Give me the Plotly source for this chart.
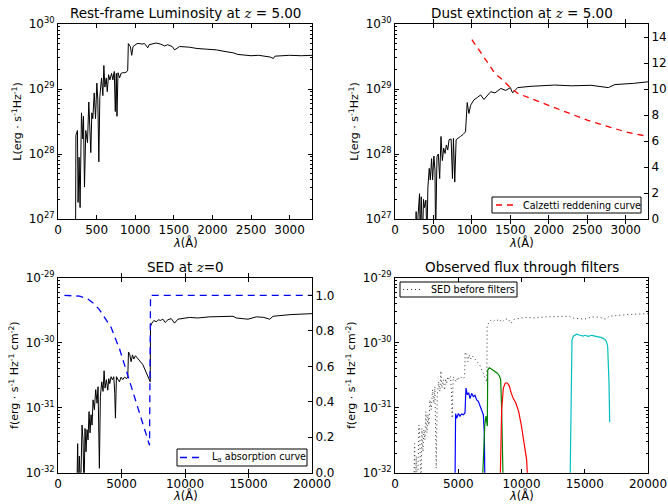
import plotly.graph_objects as go

# ---------------- data ----------------
# Panel 1: rest-frame luminosity at z=5
rest_wl = [228, 232, 252, 260, 273, 286, 304, 321, 330, 343, 360, 382, 399, 412, 425, 438, 451, 469, 486,
           503, 516, 529, 542, 564, 581, 594, 607, 625, 638, 655, 672, 694, 711, 729, 742, 755, 764, 777,
           798, 816, 838, 868, 894, 903, 911, 937, 955, 972, 998, 1024, 1059, 1090, 1120, 1163, 1180, 1230,
           1272, 1330, 1380, 1420, 1480, 1510, 1575, 1700, 1800, 1922, 2050, 2150, 2270, 2330, 2443, 2500,
           2600, 2700, 2748, 2790, 2810, 3000, 3150, 3290]
rest_lum = [8e26, 1.95e28, 2.3e28, 1.8e27, 8.9e27, 1.5e27, 4.3e28, 1.7e28, 3.8e28, 3.1e27, 2.3e28, 1.5e28,
            6.3e28, 2.3e28, 1.05e28, 4.3e28, 3.5e28, 8.7e28, 3.5e28, 1.23e29, 6.8e28, 7.6e27, 7.6e28,
            1.48e29, 7.9e28, 2.3e29, 1.07e29, 1.48e29, 9.1e28, 1.66e29, 1.38e29, 1.74e29, 1.38e29, 1.86e29,
            4.5e28, 1.74e29, 3.8e28, 1.78e29, 1.48e29, 1.74e29, 1.78e29, 1.78e29, 1.86e29, 1.95e29, 5.0e29,
            4.5e29, 3.3e29, 4.5e29, 4.8e29, 5.0e29, 5.0e29, 4.9e29, 5.0e29, 4.3e29, 4.8e29, 5.0e29, 5.1e29,
            4.9e29, 4.6e29, 4.8e29, 4.5e29, 4.0e29, 4.5e29, 4.4e29, 4.2e29, 4.1e29, 4.0e29, 3.8e29, 3.6e29,
            3.4e29, 3.3e29, 3.25e29, 3.3e29, 3.2e29, 3.1e29, 2.95e29, 3.2e29, 3.3e29, 3.25e29, 3.3e29]

# Panel 2: dust-extincted luminosity
dust_wl = [268, 275, 280, 319, 328, 341, 358, 371, 384, 402, 415, 428, 445, 459, 476, 489, 506, 520, 528,
           546, 563, 581, 598, 616, 633, 651, 668, 686, 703, 730, 747, 760, 777, 795, 821, 851, 886, 917,
           939, 961, 983, 1026, 1070, 1114, 1157, 1201, 1245, 1300, 1376, 1441, 1500, 1529, 1594, 1769,
           1900, 2074, 2300, 2424, 2550, 2773, 2860, 3100, 3290]
dust_lum = [5e26, 1.3e27, 5e26, 2.45e27, 5e26, 2.2e27, 5e26, 2.0e27, 1.5e27, 1.95e27, 5e26, 3.1e27, 6.0e27,
            4.0e27, 8.5e27, 4.0e27, 9.3e27, 5.6e27, 5e26, 9.1e27, 1.0e28, 4.2e27, 1.86e28, 7.9e27, 1.23e28,
            1.02e28, 1.38e28, 1.15e28, 1.66e28, 1.7e28, 4.2e27, 1.74e28, 3.7e27, 1.66e28, 1.78e28, 1.86e28,
            2.0e28, 2.2e28, 6.2e28, 4.2e28, 5.6e28, 6.8e28, 7.4e28, 8.1e28, 6.9e28, 8.1e28, 9.1e28, 8.7e28,
            1.02e29, 9.5e28, 1.05e29, 8.7e28, 1.05e29, 1.10e29, 1.12e29, 1.15e29, 1.12e29, 1.12e29, 1.14e29,
            1.05e29, 1.17e29, 1.22e29, 1.29e29]

calz_wl = [1000, 1100, 1200, 1300, 1400, 1500, 1600, 1800, 2000, 2250, 2500, 2750, 3000, 3290]
calz_k = [13.8, 12.95, 12.15, 11.2, 10.7, 10.1, 9.65, 9.2, 8.75, 8.15, 7.6, 7.15, 6.7, 6.35]

# Panel 3: observed-frame SED at z=0
sed_wl = [1480, 1497, 1549, 1602, 1680, 1780, 1891, 1970, 2050, 2128, 2207, 2286, 2365, 2444, 2523, 2602,
          2681, 2760, 2865, 2970, 3075, 3154, 3259, 3338, 3443, 3549, 3628, 3706, 3812, 3917, 3996, 4075,
          4180, 4285, 4391, 4470, 4522, 4601, 4706, 4838, 4969, 5101, 5233, 5417, 5496, 5549, 5654, 5759,
          5864, 5969, 6101, 6285, 6496, 6680, 6864, 7022, 7154, 7259, 7285, 7390, 7548, 7732, 7916, 8074,
          8258, 8442, 8652, 8915, 9176, 9439, 10360, 11000, 11938, 13000, 13779, 14042, 14962, 15620,
          16200, 16672, 16935, 18250, 19000, 20000]
sed_flux = [5e-33, 2.2e-32, 2.8e-32, 5e-33, 1.8e-32, 5e-33, 5.4e-32, 3.2e-32, 5e-33, 4.8e-32, 2.1e-32,
            4.6e-32, 3.2e-32, 8.7e-32, 4.1e-32, 7.8e-32, 5.4e-32, 1.32e-31, 9.3e-32, 1.9e-31, 1.17e-31,
            2.1e-31, 1.17e-32, 1.48e-31, 2.5e-31, 1.78e-31, 3.7e-31, 2.0e-31, 2.7e-31, 1.86e-31, 2.8e-31,
            2.35e-31, 3.0e-31, 2.7e-31, 3.0e-31, 1.66e-31, 6.9e-32, 3.0e-31, 2.8e-31, 2.5e-31, 2.95e-31,
            2.7e-31, 2.95e-31, 2.8e-31, 3.0e-31, 7.2e-31, 6.5e-31, 5.1e-31, 6.5e-31, 5.6e-31, 6.3e-31,
            5.75e-31, 5.1e-31, 4.6e-31, 3.8e-31, 3.2e-31, 2.8e-31, 2.5e-31, 1.78e-30, 2.0e-30, 2.2e-30,
            2.1e-30, 2.25e-30, 2.2e-30, 2.3e-30, 2.05e-30, 2.25e-30, 2.35e-30, 2.0e-30, 2.3e-30, 2.45e-30,
            2.4e-30, 2.5e-30, 2.5e-30, 2.55e-30, 2.4e-30, 2.3e-30, 2.5e-30, 2.45e-30, 2.3e-30, 2.55e-30,
            2.7e-30, 2.75e-30, 2.8e-30]

lya_wl = [500, 1000, 1700, 2340, 2800, 3260, 3700, 4180, 4500, 4838, 5100, 5364, 5600, 5890, 6150, 6416,
          6650, 6863, 7050, 7206, 7285, 20000]
lya_t = [1.0, 1.0, 0.996, 0.98, 0.955, 0.92, 0.875, 0.82, 0.76, 0.70, 0.64, 0.58, 0.515, 0.45, 0.39, 0.33,
         0.28, 0.23, 0.19, 0.155, 1.0, 1.0]

# Panel 4: flux through filters
blue_wl = [4740, 4790, 4875, 5006, 5138, 5270, 5401, 5533, 5612, 5718, 5823, 5928, 6060, 6192, 6324, 6455,
           6587, 6719, 6851, 6982, 7061, 7114]
blue_f = [5e-33, 8.1e-32, 6.9e-32, 8.1e-32, 7.4e-32, 8.0e-32, 7.8e-32, 8.3e-32, 2.0e-31, 1.58e-31, 1.7e-31,
          1.38e-31, 1.66e-31, 1.48e-31, 1.55e-31, 1.32e-31, 1.25e-31, 1.07e-31, 9.3e-32, 7.8e-32, 4.1e-32, 5e-33]
green_wl = [6880, 7000, 7100, 7190, 7245, 7300, 7330, 7457, 7562, 7720, 7905, 8089, 8247, 8352, 8431, 8510, 8563]
green_f = [5e-33, 2.5e-32, 5.5e-32, 7.4e-32, 5.4e-32, 5.2e-32, 3.8e-31, 4.1e-31, 4.0e-31, 3.8e-31, 3.6e-31,
           3.4e-31, 3.1e-31, 2.7e-31, 9.3e-32, 2.5e-32, 5e-33]
red_wl = [8300, 8431, 8563, 8721, 8879, 9037, 9195, 9353, 9564, 9775, 9985, 10196, 10407, 10530]
red_f = [5e-33, 9.3e-32, 2.0e-31, 2.4e-31, 2.4e-31, 2.15e-31, 1.66e-31, 1.38e-31, 1.17e-31, 8.7e-32, 5.4e-32,
         3.0e-32, 1.58e-32, 5e-33]
cyan_wl = [13830, 13913, 13992, 14098, 14361, 14625, 14888, 15020, 15283, 15547, 15942, 16337, 16601, 16733,
           16812, 16917, 16970]
cyan_f = [5e-33, 2.4e-31, 1.1e-30, 1.26e-30, 1.35e-30, 1.3e-30, 1.26e-30, 1.3e-30, 1.25e-30, 1.3e-30,
          1.26e-30, 1.2e-30, 1.12e-30, 1.02e-30, 8.7e-31, 2.4e-31, 6.0e-32]

top_ticks = [27, 28, 29, 30]
bot_ticks = [-32, -31, -30, -29]
legend_labels = ["Calzetti reddening curve", "L<sub>α</sub> absorption curve", "SED before filters"]

# ---------------- figure ----------------
FONT = "DejaVu Sans"
fig = go.Figure()

fig.add_trace(go.Scatter(x=rest_wl, y=rest_lum, mode="lines", line=dict(color="black", width=1),
                         xaxis="x", yaxis="y", showlegend=False))
fig.add_trace(go.Scatter(x=dust_wl, y=dust_lum, mode="lines", line=dict(color="black", width=1),
                         xaxis="x2", yaxis="y2", showlegend=False))
fig.add_trace(go.Scatter(x=calz_wl, y=calz_k, mode="lines", name=legend_labels[0],
                         line=dict(color="red", width=1.3, dash="6px,5px"),
                         xaxis="x2", yaxis="y5", showlegend=False))
fig.add_trace(go.Scatter(x=sed_wl, y=sed_flux, mode="lines", line=dict(color="black", width=1),
                         xaxis="x3", yaxis="y3", showlegend=False))
fig.add_trace(go.Scatter(x=lya_wl, y=lya_t, mode="lines", name=legend_labels[1],
                         line=dict(color="blue", width=1.3, dash="7px,5px"),
                         xaxis="x3", yaxis="y6", showlegend=False))
fig.add_trace(go.Scatter(x=sed_wl, y=sed_flux, mode="lines", name=legend_labels[2],
                         line=dict(color="#333333", width=1, dash="1px,3px"),
                         xaxis="x4", yaxis="y4", showlegend=False))
for wl, fl, col in [(blue_wl, blue_f, "#0000ff"), (green_wl, green_f, "#008000"),
                    (red_wl, red_f, "#ff0000"), (cyan_wl, cyan_f, "#00bfbf")]:
    fig.add_trace(go.Scatter(x=wl, y=fl, mode="lines", line=dict(color=col, width=1.2),
                             xaxis="x4", yaxis="y4", showlegend=False))

W, H = 668, 504
XL, XR = 58 / W, 312 / W
X2L, X2R = 395 / W, 648 / W
YT0, YT1 = 1 - 219 / H, 1 - 24 / H
YB0, YB1 = 1 - 472.7 / H, 1 - 277.7 / H

tickfont = dict(family=FONT, size=12, color="black")
titlefont = dict(family=FONT, size=11, color="black")


def xax(dom, anchor, rng, dtick):
    return dict(domain=dom, anchor=anchor, range=rng, dtick=dtick, tick0=0, tickformat="d",
                showgrid=False, zeroline=False, automargin=False, ticklabeloverflow="allow",
                showline=True, linecolor="black", linewidth=1, mirror="allticks", ticks="inside",
                ticklen=4, tickcolor="black", tickfont=tickfont)


def ylog(dom, anchor, exps, title, mirror):
    minors = [m * 10.0 ** e for e in exps[:-1] for m in range(2, 10)]
    return dict(domain=dom, anchor=anchor, type="log", range=[exps[0], exps[-1]], automargin=False,
                tickvals=[10.0 ** e for e in exps], ticktext=["10<sup>%d</sup>" % e for e in exps],
                showgrid=False, zeroline=False, showline=True, linecolor="black", linewidth=1,
                mirror=mirror, ticks="inside", ticklen=4, tickcolor="black", tickfont=tickfont,
                ticklabeloverflow="allow",
                minor=dict(tickmode="array", tickvals=minors, ticks="inside", ticklen=2,
                           tickcolor="black", showgrid=False),
                title=dict(text=title, font=titlefont, standoff=4))


L_TITLE = "L(erg · s<sup>-1</sup>Hz<sup>-1</sup>)"
F_TITLE = "f(erg · s<sup>-1</sup> Hz<sup>-1</sup> cm<sup>-2</sup>)"

fig.update_layout(
    width=W, height=H, margin=dict(l=0, r=0, t=0, b=0),
    paper_bgcolor="white", plot_bgcolor="white",
    font=dict(family=FONT, size=11, color="black"),
    showlegend=False,
    xaxis=xax([XL, XR], "y", [0, 3290], 500),
    yaxis=ylog([YT0, YT1], "x", top_ticks, L_TITLE, "allticks"),
    xaxis2=xax([X2L, X2R], "y2", [0, 3290], 500),
    yaxis2=ylog([YT0, YT1], "x2", top_ticks, L_TITLE, True),
    xaxis3=xax([XL, XR], "y3", [0, 20000], 5000),
    yaxis3=ylog([YB0, YB1], "x3", bot_ticks, F_TITLE, True),
    xaxis4=xax([X2L, X2R], "y4", [0, 20000], 5000),
    yaxis4=ylog([YB0, YB1], "x4", bot_ticks, F_TITLE, "allticks"),
    yaxis5=dict(overlaying="y2", anchor="x2", side="right", range=[0, 15], dtick=2, tick0=0,
                automargin=False, ticklabeloverflow="allow",
                showgrid=False, zeroline=False, showline=True, linecolor="black", ticks="inside",
                ticklen=4, tickcolor="black", tickfont=tickfont),
    yaxis6=dict(overlaying="y3", anchor="x3", side="right", range=[0, 1.1], dtick=0.2, tick0=0,
                automargin=False, ticklabeloverflow="allow",
                tickformat=".1f", showgrid=False, zeroline=False, showline=True, linecolor="black",
                ticks="inside", ticklen=4, tickcolor="black", tickfont=tickfont),
)

# titles
ZI = '<span style="font-family:DejaVu Serif"><i>z</i></span>'
titles = [
    ("Rest-frame Luminosity at %s = 5.00" % ZI, (XL + XR) / 2, YT1),
    ("Dust extinction at %s = 5.00" % ZI, (X2L + X2R) / 2, YT1),
    ("SED at %s=0" % ZI, (XL + XR) / 2, YB1),
    ("Observed flux through filters", (X2L + X2R) / 2, YB1),
]
for txt, xc, yt in titles:
    fig.add_annotation(text=txt, x=xc, y=yt, xref="paper", yref="paper", xanchor="center",
                       yanchor="bottom", yshift=1, showarrow=False,
                       font=dict(family=FONT, size=13.5, color="black"))

# x-axis titles
for xc, ypix in [((XL + XR) / 2, 242), ((X2L + X2R) / 2, 242), ((XL + XR) / 2, 495.5), ((X2L + X2R) / 2, 495.5)]:
    fig.add_annotation(text="<i>λ</i>(Å)", x=xc, y=1 - ypix / H, xref="paper", yref="paper",
                       xanchor="center", yanchor="middle", showarrow=False,
                       font=dict(family=FONT, size=11.5, color="black"))

# legend boxes (pixel boxes: x0, x1, y0, y1, sample line x0, x1, text x, colour, dash)
legend_boxes = [
    (492, 641, 197, 213, 496, 515, 521, "red", "6px,5px", 1.3),
    (177, 307, 449, 466, 180, 201, 210, "blue", "7px,5px", 1.3),
    (400, 517, 282, 297, 403, 423, 429, "#333333", "1px,3px", 1),
]
for (bx0, bx1, by0, by1, lx0, lx1, tx, col, dash, lw), lab in zip(legend_boxes, legend_labels):
    fig.add_shape(type="rect", xref="paper", yref="paper", x0=bx0 / W, x1=bx1 / W,
                  y0=1 - by1 / H, y1=1 - by0 / H, line=dict(color="black", width=1), fillcolor="white",
                  layer="above")
    ym = 1 - (by0 + by1) / 2 / H
    fig.add_shape(type="line", xref="paper", yref="paper", x0=lx0 / W, x1=lx1 / W, y0=ym, y1=ym,
                  line=dict(color=col, width=lw, dash=dash), layer="above")
    fig.add_annotation(text=lab, x=tx / W, y=ym, xref="paper", yref="paper", xanchor="left",
                       yanchor="middle", showarrow=False, font=dict(family=FONT, size=9.6, color="black"))

fig.write_html("out.html")
